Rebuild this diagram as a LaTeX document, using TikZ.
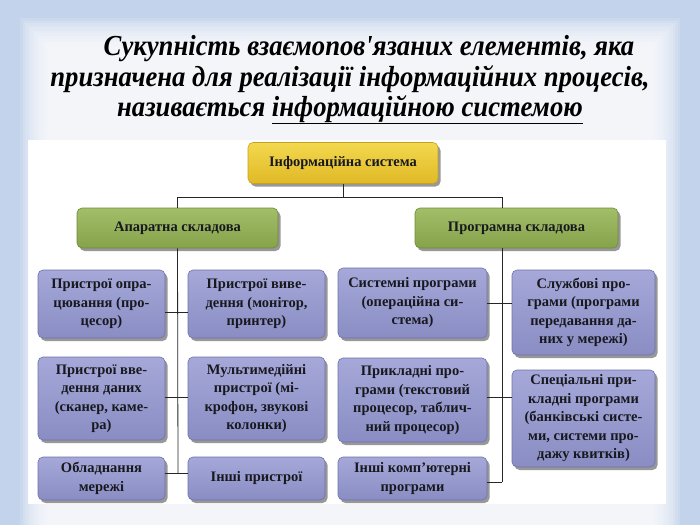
\documentclass[tikz,border=0pt]{standalone}
\usepackage{fontspec}
\setmainfont{Liberation Serif}
\newfontfamily\headfont[FakeStretch=0.92]{Liberation Serif}
\usepackage{xcolor}
\definecolor{cFrame}{HTML}{C2D3EB}
\definecolor{cYelTop}{HTML}{F3D84E}
\definecolor{cYelBot}{HTML}{E0B925}
\definecolor{cYelLine}{HTML}{C8A21C}
\definecolor{cGrnTop}{HTML}{A2BE68}
\definecolor{cGrnBot}{HTML}{86A24B}
\definecolor{cGrnLine}{HTML}{6F8B3A}
\definecolor{cLavTop}{HTML}{A5A8D8}
\definecolor{cLavBot}{HTML}{8A8DC3}
\definecolor{cLavLine}{HTML}{6F72AA}
\definecolor{cInk}{HTML}{18181F}
\usepackage{tikz}
\usetikzlibrary{shadows}

\begin{document}
\begin{tikzpicture}[x=1pt, y=-1pt,
    card/.style={rounded corners=5pt, align=center, line width=0.6pt,
                 text=cInk, inner sep=2pt,
                 font=\fontsize{14.5}{18.5}\selectfont\bfseries,
                 drop shadow={shadow xshift=2.5pt, shadow yshift=-3pt,
                              fill=black!80, opacity=0.5}},
    rootbox/.style={card, top color=cYelTop, bottom color=cYelBot, draw=cYelLine},
    partbox/.style={card, top color=cGrnTop, bottom color=cGrnBot, draw=cGrnLine},
    itembox/.style={card, top color=cLavTop, bottom color=cLavBot, draw=cLavLine},
    title/.style={anchor=base, inner sep=0pt, text=black,
                  font=\headfont\fontsize{29}{30}\selectfont\bfseries\itshape},
    link/.style={draw=black!85, line width=0.8pt}
]
\useasboundingbox (0,0) rectangle (700,525);

% slide frame
\fill[cFrame] (0,0) rectangle (700,525);
\foreach \i in {0,...,11}
  \fill[white, opacity=0.15] (20+2.5*\i,18+2.5*\i) rectangle (680-2.5*\i,525);
\fill[white] (28,140) rectangle (666,504);

% definition
\node[title] (t1) at (369,55) {Сукупність взаємопов\char"0027язаних елементів, яка};
\node[title] (t2) at (350,86) {призначена для реалізації інформаційних процесів,};
\node[title] (t3) at (350,116) {називається \underline{інформаційною системою}};

% top levels
\node[rootbox, minimum width=190pt, minimum height=41pt] (is) at (343,163) {Інформаційна система};
\node[partbox, minimum width=201pt, minimum height=40pt] (hw) at (177.5,228) {Апаратна складова};
\node[partbox, minimum width=203pt, minimum height=40pt] (sw) at (516.5,228) {Програмна складова};

% hardware
\node[itembox, minimum width=127pt, minimum height=68pt] (hwa) at (101.5,304) {Пристрої опра-\\цювання (про-\\цесор)};
\node[itembox, minimum width=127pt, minimum height=83pt] (hwb) at (101.5,398.5) {Пристрої вве-\\дення даних\\(сканер, каме-\\ра)};
\node[itembox, minimum width=127pt, minimum height=43pt] (hwc) at (101.5,478.5) {Обладнання\\мережі};
\node[itembox, minimum width=137pt, minimum height=68pt] (hwd) at (256.5,304) {Пристрої виве-\\дення (монітор,\\принтер)};
\node[itembox, minimum width=137pt, minimum height=83pt] (hwe) at (256.5,398.5) {Мультимедійні\\пристрої (мі-\\крофон, звукові\\колонки)};
\node[itembox, minimum width=137pt, minimum height=43pt] (hwf) at (256.5,478.5) {Інші пристрої};

% software
\node[itembox, minimum width=149pt, minimum height=70pt] (swa) at (412.5,303) {Системні програми\\(операційна си-\\стема)};
\node[itembox, minimum width=149pt, minimum height=84pt] (swb) at (412.5,400) {Прикладні про-\\грами (текстовий\\процесор, таблич-\\ний процесор)};
\node[itembox, minimum width=149pt, minimum height=43pt] (swc) at (412.5,478.5) {Інші комп’ютерні\\програми};
\node[itembox, minimum width=143pt, minimum height=85pt] (swd) at (583.5,312.5) {Службові про-\\грами (програми\\передавання да-\\них у мережі)};
\node[itembox, minimum width=143pt, minimum height=97pt] (swe) at (583.5,418.5) {Спеціальні при-\\кладні програми\\(банківські систе-\\ми, системи про-\\дажу квитків)};

% junctions
\coordinate (bus) at (343,197);
\coordinate (swin) at (502,208);
\coordinate (swout) at (502,248);
\coordinate (ha) at (178,312);
\coordinate (hb) at (178,397);
\coordinate (hc) at (178,473);
\coordinate (sa) at (502,303);
\coordinate (sb) at (502,397);
\coordinate (sc) at (502,482);

\draw[link] (is.south) -- (bus);
\draw[link] (bus) -| (hw.north);
\draw[link] (bus) -| (swin);

\draw[link] (hw.south) -- (hc);
\draw[link] (hwa.east |- ha) -- (hwd.west |- ha);
\draw[link] (hwb.east |- hb) -- (hwe.west |- hb);
\draw[link] (hwc.east |- hc) -- (hwf.west |- hc);

\draw[link] (swout) -- (sc);
\draw[link] (swa.east |- sa) -- (swd.west |- sa);
\draw[link] (swb.east |- sb) -- (swe.west |- sb);
\draw[link] (swc.east |- sc) -- (sc);
\end{tikzpicture}
\end{document}
